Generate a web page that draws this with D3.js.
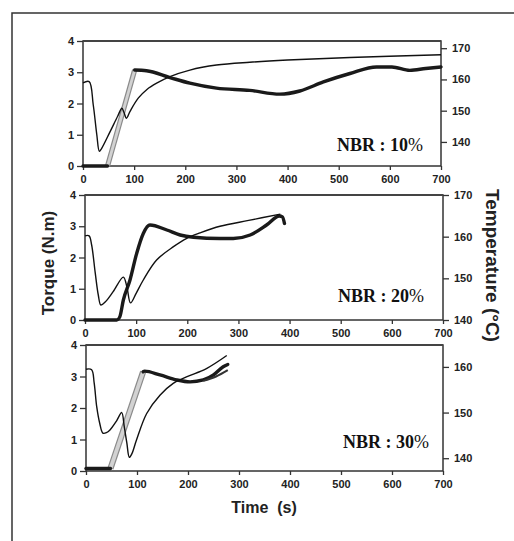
<!DOCTYPE html>
<html>
<head>
<meta charset="utf-8">
<script src="https://cdn.jsdelivr.net/npm/d3@7"></script>
<style>
  html,body{margin:0;padding:0;background:#fff;}
  svg{display:block;}
</style>
</head>
<body>
<div id="chart"></div>
<script>
// time axis / tick labels
const xTicks = [0,100,200,300,400,500,600,700];
const torqueTicks = [0,1,2,3,4];
const tempTicks10 = [140,150,160,170];
const tempTicks20 = [140,150,160,170];
const tempTicks30 = [140,150,160];
const nbrLabels = ['NBR : 10', 'NBR : 20', 'NBR : 30'];

// torque (N.m) vs time (s), thick curve
const torque10 = [[0,0],[48,0],[101,3.07],[124,3.05],[170,2.83],[209,2.65],[261,2.49],[326,2.42],[385,2.30],[424,2.40],[470,2.69],[522,2.96],[574,3.17],[604,3.17],[639,3.06],[670,3.12],[700,3.17]];
const torque20 = [[0,0],[62,0],[68,0.1],[75,0.64],[88,1.28],[101,2.13],[114,2.77],[127,3.04],[160,2.88],[186,2.72],[212,2.65],[264,2.61],[290,2.61],[323,2.72],[355,3.04],[380,3.33],[386,3.3],[390,3.09]];
const torque30 = [[0,0.08],[48,0.08],[112,3.15],[115,3.17],[145,3.05],[178,2.89],[204,2.83],[230,2.89],[250,3.05],[269,3.31],[278,3.38]];
const torque30b = [[230,2.86],[255,3.0],[278,3.2]];
// rising segment drawn grey (start, end time)
const rise10 = [48,101];
const rise30 = [48,112];

// temperature (°C) vs time (s), thin curve
const temp10 = [[0,158.9],[12,159.3],[20,151.9],[27,142.3],[32,137.0],[36,137.8],[53,143.3],[68,148.3],[76,150.8],[80,149.5],[85,147.6],[92,149.8],[108,154.0],[125,156.8],[144,158.8],[170,160.9],[209,163.0],[261,164.6],[326,165.5],[400,166.2],[522,167.0],[700,167.9]];
const temp20 = [[0,160.2],[8,160.2],[13,158.0],[20,151.3],[26,146.0],[31,143.6],[40,144.4],[55,146.8],[75,150.3],[82,147.9],[89,144.1],[100,146.4],[114,149.6],[140,154.4],[173,157.6],[199,159.6],[225,160.9],[264,162.5],[320,163.9],[382,165.4]];
const temp30 = [[0,159.5],[11,159.4],[16,156.5],[21,151.3],[27,147.6],[33,145.5],[40,145.6],[47,146.2],[60,148.2],[70,150.0],[75,146.9],[80,143.4],[85,140.2],[90,141.0],[99,144.0],[119,149.8],[145,153.8],[171,156.4],[197,157.8],[237,159.7],[276,162.5]];

const W = 514, H = 541;
const svg = d3.select('#chart').append('svg').attr('width',W).attr('height',H);
const FS = 'Liberation Sans, Arial, sans-serif';

// outer frame (left + top)
svg.append('path').attr('d',`M12,${H} L12,13 L${W},13`).attr('fill','none').attr('stroke','#333').attr('stroke-width',1.5);

const panels = [
  {box:{l:83,r:441,t:41,b:166}, tDom:[132.3,172.3], tTicks:tempTicks10, torque:torque10, rise:rise10, riseW:4, extra:null, temp:temp10, lab:nbrLabels[0], lx:423, ly:151},
  {box:{l:85,r:443,t:195,b:320}, tDom:[140,170], tTicks:tempTicks20, torque:torque20, rise:null, riseW:0, extra:null, temp:temp20, lab:nbrLabels[1], lx:424, ly:302},
  {box:{l:86,r:443,t:345,b:471}, tDom:[137.2,164.8], tTicks:tempTicks30, torque:torque30, rise:rise30, riseW:5, extra:torque30b, temp:temp30, lab:nbrLabels[2], lx:429, ly:448}
];

panels.forEach(p => {
  const b = p.box;
  const x = d3.scaleLinear().domain([0,700]).range([b.l,b.r]);
  const y = d3.scaleLinear().domain([0,4]).range([b.b,b.t]);
  const yT = d3.scaleLinear().domain(p.tDom).range([b.b,b.t]);
  const g = svg.append('g');

  // axes
  const ax = g.append('g').attr('transform',`translate(0,${b.b})`)
    .call(d3.axisBottom(x).tickValues(xTicks).tickFormat(d3.format('d')).tickSize(4).tickPadding(5));
  const ay = g.append('g').attr('transform',`translate(${b.l},0)`)
    .call(d3.axisLeft(y).tickValues(torqueTicks).tickFormat(d3.format('d')).tickSize(6).tickPadding(3));
  const ar = g.append('g').attr('transform',`translate(${b.r},0)`)
    .call(d3.axisRight(yT).tickValues(p.tTicks).tickFormat(d3.format('d')).tickSize(6).tickPadding(5));
  [ax,ay,ar].forEach(a => {
    a.select('.domain').remove();
    a.selectAll('line').attr('stroke','#333').attr('stroke-width',1.3);
    a.selectAll('text').attr('fill','#222').style('font-family',FS).style('font-weight','bold').style('font-size','11px');
  });

  // box
  g.append('rect').attr('x',b.l).attr('y',b.t).attr('width',b.r-b.l).attr('height',b.b-b.t)
    .attr('fill','none').attr('stroke','#333').attr('stroke-width',1.5);
  g.append('line').attr('x1',b.l).attr('x2',b.r).attr('y1',b.t).attr('y2',b.t).attr('stroke','#444').attr('stroke-width',2.2);

  const lineT = d3.line().x(d=>x(d[0])).y(d=>y(d[1])).curve(d3.curveMonotoneX);
  const lineS = d3.line().x(d=>x(d[0])).y(d=>y(d[1]));
  const lineTemp = d3.line().x(d=>x(d[0])).y(d=>yT(d[1])).curve(d3.curveCatmullRom.alpha(0.5));

  // thick torque curve, split around the grey rising part
  const r = p.rise;
  const segs = r ? [p.torque.filter(d=>d[0]<=r[0]), p.torque.filter(d=>d[0]>=r[1])] : [p.torque];
  if (r) {
    const seg = p.torque.filter(d => d[0]>=r[0] && d[0]<=r[1]);
    g.append('path').attr('d',lineS(seg)).attr('fill','none').attr('stroke','#8a8a8a').attr('stroke-width',p.riseW+1.2);
    g.append('path').attr('d',lineS(seg)).attr('fill','none').attr('stroke','#d2d2d2').attr('stroke-width',p.riseW-1.2);
  }
  segs.forEach(s => {
    g.append('path').attr('d',lineT(s)).attr('fill','none')
      .attr('stroke','#1a1a1a').attr('stroke-width',3.4).attr('stroke-linejoin','round').attr('stroke-linecap','round');
  });
  if (p.extra) {
    g.append('path').attr('d',lineT(p.extra)).attr('fill','none').attr('stroke','#333').attr('stroke-width',2);
  }

  // thin temperature curve
  g.append('path').attr('d',lineTemp(p.temp)).attr('fill','none').attr('stroke','#111').attr('stroke-width',1.4);

  // NBR label
  const t = g.append('text').attr('x',p.lx).attr('y',p.ly).attr('text-anchor','end')
    .style('font-family','Liberation Serif, Times New Roman, serif').style('font-size','18px').attr('fill','#111');
  t.append('tspan').style('font-weight','bold').text(p.lab);
  t.append('tspan').style('font-weight','normal').text('%');
});

// axis titles
svg.append('text').attr('transform','translate(54,263) rotate(-90)').attr('text-anchor','middle')
  .style('font-family',FS).style('font-weight','bold').style('font-size','17px').attr('fill','#222')
  .text('Torque (N.m)');
svg.append('text').attr('transform','translate(486,189) rotate(90)').attr('text-anchor','start')
  .style('font-family',FS).style('font-weight','bold').style('font-size','19px').attr('fill','#222')
  .text('Temperature (°C)');
svg.append('text').attr('x',264).attr('y',513).attr('text-anchor','middle').attr('xml:space','preserve')
  .style('white-space','pre')
  .style('font-family',FS).style('font-weight','bold').style('font-size','16px').attr('fill','#222')
  .text('Time  (s)');
</script>
</body>
</html>
